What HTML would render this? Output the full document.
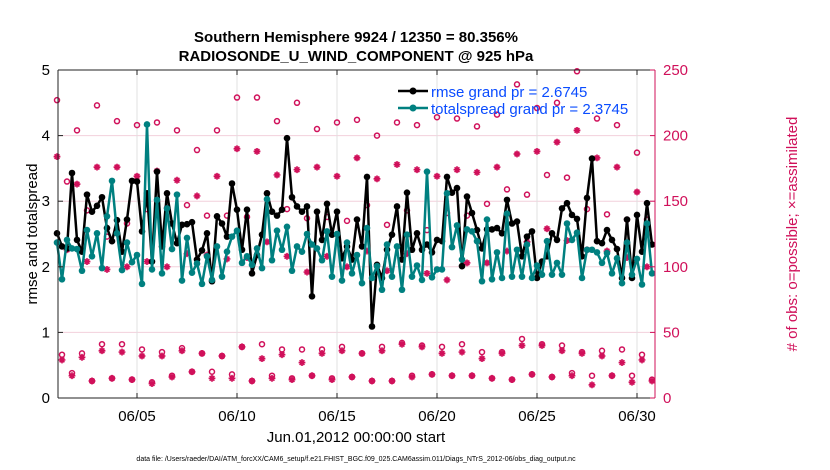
<!DOCTYPE html>
<html><head><meta charset="utf-8">
<style>
html,body{margin:0;padding:0;background:#fff;}
svg{display:block;font-family:"Liberation Sans",sans-serif;}
</style></head>
<body>
<svg id="chart" width="830" height="470" viewBox="0 0 830 470" xmlns="http://www.w3.org/2000/svg">
<rect x="0" y="0" width="830" height="470" fill="#fff"/>
<g id="grid"></g>
<g id="marks"></g>
<g id="axes"></g>
<text x="356" y="42" text-anchor="middle" font-size="15" font-weight="bold">Southern Hemisphere 9924 / 12350 = 80.356%</text>
<text x="356" y="61" text-anchor="middle" font-size="15" font-weight="bold">RADIOSONDE_U_WIND_COMPONENT @ 925 hPa</text>
<text transform="translate(37,234) rotate(-90)" text-anchor="middle" font-size="15">rmse and totalspread</text>
<text transform="translate(797,234) rotate(-90)" text-anchor="middle" font-size="15" fill="#d0105a"># of obs: o=possible; ×=assimilated</text>
<text x="356" y="442" text-anchor="middle" font-size="15">Jun.01,2012 00:00:00 start</text>
<text x="356" y="461" text-anchor="middle" font-size="7">data file: /Users/raeder/DAI/ATM_forcXX/CAM6_setup/f.e21.FHIST_BGC.f09_025.CAM6assim.011/Diags_NTrS_2012-06/obs_diag_output.nc</text>
<g id="legend">
<line x1="398" y1="91" x2="428" y2="91" stroke="#000" stroke-width="2.5"/>
<circle cx="413" cy="91" r="3.5" fill="#000"/>
<text x="431" y="97" font-size="15" fill="#0a4cff">rmse grand pr = 2.6745</text>
<line x1="398" y1="108" x2="428" y2="108" stroke="#008080" stroke-width="2.5"/>
<circle cx="413" cy="108" r="3.5" fill="#008080"/>
<text x="431" y="114" font-size="15" fill="#0a4cff">totalspread grand pr = 2.3745</text>
</g>
</svg>
<script>
const rmse = [2.51,2.31,2.28,3.43,2.41,2.23,3.10,2.84,2.93,3.06,2.59,2.39,2.71,2.23,2.72,3.31,3.30,2.54,3.12,2.08,3.45,2.31,3.12,2.66,2.36,2.64,2.65,2.68,2.11,2.25,
2.51,1.78,2.77,2.66,2.46,3.27,2.87,2.26,2.87,1.90,2.18,2.49,3.12,2.84,2.78,2.87,3.96,3.06,2.92,2.84,2.92,1.55,2.84,2.41,2.96,2.49,2.84,2.13,2.31,2.11,
2.72,2.31,3.37,1.09,2.03,1.83,2.26,2.49,2.92,2.11,3.13,2.26,2.51,2.26,2.34,2.22,2.41,2.39,3.37,3.13,3.20,2.01,3.07,2.82,2.56,2.28,2.57,2.57,2.59,2.51,
3.02,2.66,2.69,2.16,2.46,2.54,1.83,2.08,2.16,2.51,2.41,2.89,2.97,2.79,2.73,2.16,3.05,3.65,2.39,2.36,2.56,2.41,2.27,1.83,2.72,1.83,2.79,2.23,2.97,2.34];
const spread = [2.37,1.81,2.41,2.28,2.27,1.94,2.56,2.16,2.51,1.98,2.77,3.31,2.51,1.95,2.37,2.07,2.18,1.74,4.17,1.96,3.02,1.90,2.89,2.27,3.10,1.79,2.44,1.91,2.05,1.74,
2.16,1.80,2.31,1.85,2.23,2.46,2.55,2.06,2.16,2.03,2.28,1.98,3.03,2.10,2.55,2.26,2.61,1.94,2.31,2.23,2.50,2.34,2.28,2.10,2.54,1.85,2.50,1.79,2.37,1.90,
2.18,1.75,2.59,1.83,2.01,1.65,2.34,1.85,2.31,1.65,2.49,1.85,2.02,1.80,3.45,1.84,1.96,1.96,3.12,2.30,2.63,2.11,2.57,2.54,2.39,1.78,2.72,1.81,2.22,1.83,
2.81,1.85,2.26,1.85,2.34,1.83,2.02,1.88,2.39,1.88,2.06,1.88,2.66,2.41,2.52,1.83,2.26,2.26,2.22,2.06,2.21,1.90,2.13,1.75,2.37,1.88,2.12,1.73,2.66,1.90];
const possible = [227,33,165,19,204,34,143,13,223,41,123,15,211,41,133,14,208,37,144,12,210,35,145,17,204,38,147,20,189,34,
139,20,204,32,139,18,229,39,138,13,229,41,156,17,211,37,144,15,225,37,137,17,205,37,138,15,210,39,135,16,
212,34,147,13,200,39,132,13,210,42,143,17,208,40,128,18,214,39,141,17,213,41,139,17,207,35,148,15,216,35,
159,14,239,45,155,18,221,41,170,16,225,40,168,19,249,35,144,17,213,36,140,17,208,37,136,17,187,33,136,14];
const assimilated = [184,29,113,17,163,31,104,13,176,36,98,15,176,35,100,14,169,32,104,11,173,32,100,16,166,36,110,20,154,34,
109,15,169,32,106,15,190,39,107,13,188,30,119,15,170,33,108,14,174,27,96,17,176,34,108,14,169,36,100,16,
183,34,112,13,167,36,97,13,178,41,110,16,174,39,95,18,169,34,90,17,174,35,103,17,172,30,103,15,176,34,
112,14,186,40,119,18,188,40,129,16,195,36,120,17,204,34,113,10,183,32,112,17,176,27,107,12,157,29,100,13];
const leftTicks = [0,1,2,3,4,5];
const rightTicks = [0,50,100,150,200,250];
const xTickDays = [4,9,14,19,24,29];
const xTickLabels = ["06/05","06/10","06/15","06/20","06/25","06/30"];
const stepDays = 0.25;

const L=58,R=655,T=70,B=398, X0=57, PXDAY=20;
const xs = d => X0 + d*PXDAY;
const yl = v => B - v*(B-T)/5;
const yr = v => B - v*(B-T)/250;
const NS="http://www.w3.org/2000/svg";
const CR="#d0105a";
function mk(tag, parent, attrs){const e=document.createElementNS(NS,tag);for(const k in attrs)e.setAttribute(k,attrs[k]);parent.appendChild(e);return e;}
const grid=document.getElementById('grid'), marks=document.getElementById('marks'), axes=document.getElementById('axes');

leftTicks.forEach(v=>{ if(v>0&&v<5){const g=mk('line',grid,{x1:L,x2:R,y1:yl(v),y2:yl(v),stroke:'#f2d0dc','stroke-width':1});

}});
xTickDays.forEach(d=>{const g=mk('line',grid,{x1:xs(d),x2:xs(d),y1:T,y2:B,stroke:'#e0e0e0','stroke-width':1});

});

possible.forEach((v,i)=>{const c=mk('circle',marks,{cx:xs(i*stepDays),cy:yr(v),r:2.5,fill:'none',stroke:CR,'stroke-width':1.5});

});
assimilated.forEach((v,i)=>{const x=xs(i*stepDays),y=yr(v),r=3.4;
const g=mk('path',marks,{d:`M${x-r} ${y}H${x+r}M${x} ${y-r}V${y+r}M${x-r*0.7} ${y-r*0.7}L${x+r*0.7} ${y+r*0.7}M${x-r*0.7} ${y+r*0.7}L${x+r*0.7} ${y-r*0.7}`,stroke:CR,'stroke-width':1.7,fill:'none'});

});

function series(vals,color,name){
  const p=mk('polyline',marks,{points:vals.map((v,i)=>xs(i*stepDays)+','+yl(v)).join(' '),fill:'none',stroke:color,'stroke-width':2.5,'stroke-linejoin':'round'});
  
  
  vals.forEach((v,i)=>{const c=mk('circle',marks,{cx:xs(i*stepDays),cy:yl(v),r:3.3,fill:color});
  
  });
}
series(rmse,'#000','rmse');
series(spread,'#008080','totalspread');

const f=mk('path',axes,{d:`M${L} ${T}H${R}M${L} ${B}H${R}M${L} ${T}V${B}`,stroke:'#222','stroke-width':1,fill:'none'});


const ra=mk('line',axes,{x1:R,x2:R,y1:T,y2:B,stroke:CR,'stroke-width':1});


leftTicks.forEach(v=>{
  mk('line',axes,{x1:L,x2:L+5,y1:yl(v),y2:yl(v),stroke:'#222'});
  const t=mk('text',axes,{x:L-8,y:yl(v)+5,'text-anchor':'end','font-size':15});t.textContent=v;
  
  
});
rightTicks.forEach(v=>{
  mk('line',axes,{x1:R-5,x2:R,y1:yr(v),y2:yr(v),stroke:CR});
  const t=mk('text',axes,{x:R+8,y:yr(v)+5,'font-size':15,fill:CR});t.textContent=v;
  
  
});
xTickDays.forEach((d,k)=>{
  mk('line',axes,{x1:xs(d),x2:xs(d),y1:B,y2:B-5,stroke:'#222'});
  mk('line',axes,{x1:xs(d),x2:xs(d),y1:T,y2:T+5,stroke:'#222'});
  const t=mk('text',axes,{x:xs(d),y:B+23,'text-anchor':'middle','font-size':15});t.textContent=xTickLabels[k];
  
  
});
</script>
</body></html>
